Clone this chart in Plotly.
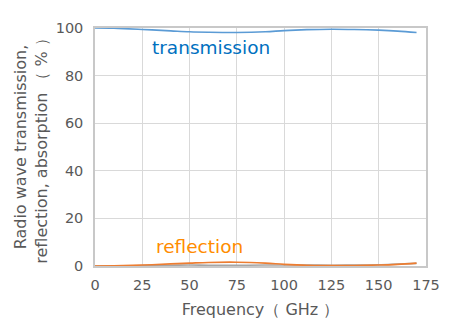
import plotly.graph_objects as go

# Frequency sweep (GHz) and measured percentages
freq = [0, 10, 25, 40, 50, 60, 75, 90, 100, 112, 125, 137, 150, 160, 170]
transmission = [100, 99.9, 99.4, 98.8, 98.4, 98.2, 98.1, 98.4, 98.9, 99.3, 99.5, 99.4, 99.1, 98.7, 98.1]
reflection = [0, 0.1, 0.4, 0.9, 1.2, 1.5, 1.6, 1.2, 0.7, 0.3, 0.2, 0.2, 0.4, 0.7, 1.2]
absorption = [0, 0, 0.2, 0.3, 0.4, 0.3, 0.3, 0.4, 0.4, 0.4, 0.3, 0.4, 0.5, 0.8, 1.1]

x_ticks = [0, 25, 50, 75, 100, 125, 150, 175]
y_ticks = [0, 20, 40, 60, 80, 100]

font_family = "DejaVu Sans"
grey_text = "#595959"

fig = go.Figure()
fig.add_trace(go.Scatter(x=freq, y=absorption, mode="lines", line=dict(color="#A5A5A5", width=1.6, shape="spline"), name="absorption"))
fig.add_trace(go.Scatter(x=freq, y=reflection, mode="lines", line=dict(color="#ED7D31", width=1.6, shape="spline"), name="reflection"))
fig.add_trace(go.Scatter(x=freq, y=transmission, mode="lines", line=dict(color="#5B9BD5", width=1.6, shape="spline"), name="transmission"))

fig.add_annotation(x=61.3, y=92, text="transmission", showarrow=False,
                   font=dict(family=font_family, size=18.5, color="#0070C0"))
fig.add_annotation(x=55.5, y=8.4, text="reflection", showarrow=False,
                   font=dict(family=font_family, size=18.5, color="#FF8C00"))

fig.update_layout(
    width=456, height=331,
    margin=dict(l=95, r=30, t=28, b=65),
    paper_bgcolor="white", plot_bgcolor="white",
    showlegend=False,
    font=dict(family=font_family, size=14, color=grey_text),
)
fig.update_xaxes(
    range=[0, 175], tickvals=x_ticks, ticktext=[str(v) for v in x_ticks],
    showgrid=True, gridcolor="#D9D9D9", gridwidth=1,
    showline=True, linecolor="#C8C8C8", linewidth=1.5, mirror=True,
    zeroline=False, ticks="", ticklabelstandoff=5, tickfont=dict(size=14.5, color=grey_text),
    title=dict(text="Frequency（ GHz ）", font=dict(size=16, color=grey_text), standoff=12),
)
fig.update_yaxes(
    range=[0, 100], tickvals=y_ticks, ticktext=[str(v) for v in y_ticks],
    showgrid=True, gridcolor="#D9D9D9", gridwidth=1,
    showline=True, linecolor="#C8C8C8", linewidth=1.5, mirror=True,
    zeroline=False, ticks="", ticklabelstandoff=7, tickfont=dict(size=14.5, color=grey_text),
    title=dict(text="Radio wave transmission,<br>reflection, absorption （ % ）",
               font=dict(size=16, color=grey_text), standoff=4),
)

fig.write_html("out.html")
